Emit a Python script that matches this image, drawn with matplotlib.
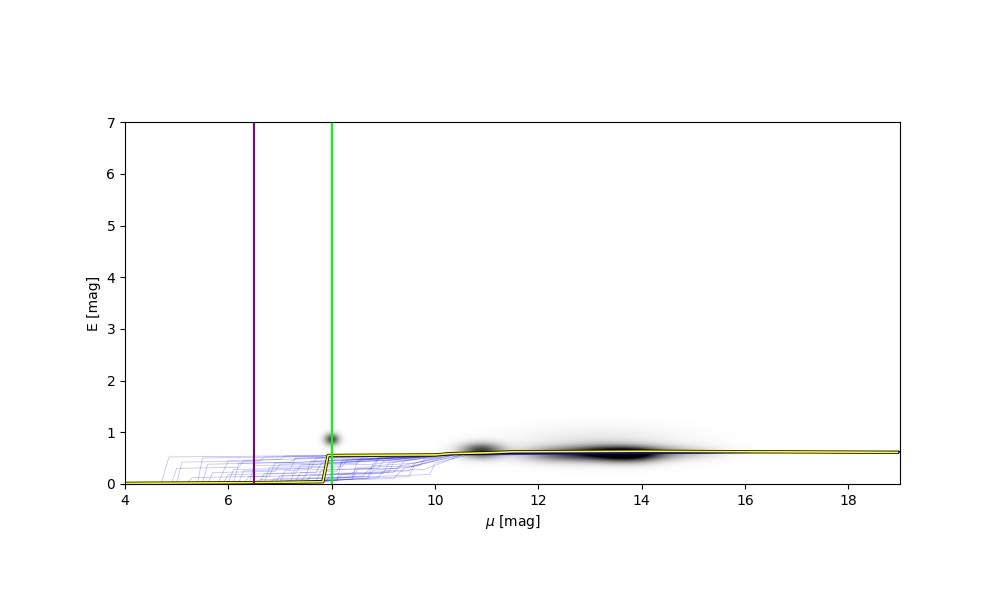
import numpy as np
import matplotlib
matplotlib.use("Agg")
import matplotlib.pyplot as plt

# density blobs (mu, E, width mu, width E, strength)
blob_mu = [8.0, 10.9, 12.4, 13.2, 13.8, 14.5, 13.2]
blob_E = [0.86, 0.64, 0.57, 0.59, 0.57, 0.60, 0.75]
blob_smu = [0.1, 0.28, 0.5, 0.42, 0.4, 0.6, 1.1]
blob_sE = [0.08, 0.1, 0.1, 0.1, 0.1, 0.09, 0.22]
blob_amp = [0.85, 0.9, 0.6, 0.8, 1.1, 0.35, 0.14]

# median extinction profile (yellow)
med_mu = [4.0, 6.0, 7.0, 7.83, 7.93, 9.0, 10.0, 10.3, 11.0, 11.5, 14.0, 18.95]
med_E = [0.01, 0.02, 0.03, 0.04, 0.55, 0.555, 0.56, 0.585, 0.60, 0.62, 0.63, 0.61]

# a selection of sample profiles (blue), nodes in (mu, E)
samples = [
    ([4, 4.7, 4.85, 6.0, 7.9, 10.0, 11.5, 19], [0, 0, 0.52, 0.53, 0.55, 0.56, 0.62, 0.62]),
    ([4, 4.9, 5.0, 6.2, 6.3, 8.0, 10.2, 19], [0, 0, 0.30, 0.32, 0.45, 0.50, 0.57, 0.62]),
    ([4, 5.5, 5.6, 7.5, 9.0, 10.5, 19], [0, 0.02, 0.38, 0.42, 0.50, 0.60, 0.63]),
    ([4, 6.2, 6.3, 7.2, 7.3, 9.5, 11.0, 19], [0, 0.03, 0.25, 0.28, 0.50, 0.55, 0.60, 0.62]),
    ([4, 7.0, 7.6, 8.6, 8.8, 9.6, 10.3, 19], [0, 0.05, 0.10, 0.15, 0.35, 0.40, 0.58, 0.62]),
    ([4, 7.5, 8.3, 9.2, 9.4, 10.6, 19], [0, 0.04, 0.08, 0.10, 0.30, 0.58, 0.62]),
    ([4, 5.8, 6.0, 7.0, 7.1, 8.5, 10.0, 19], [0, 0.01, 0.45, 0.47, 0.54, 0.55, 0.57, 0.63]),
    ([4, 6.6, 6.7, 7.7, 7.8, 9.0, 10.4, 19], [0, 0.02, 0.20, 0.22, 0.40, 0.45, 0.58, 0.62]),
    ([4, 7.2, 7.3, 8.2, 8.3, 9.3, 10.5, 19], [0, 0.04, 0.30, 0.33, 0.46, 0.50, 0.59, 0.61]),
    ([4, 6.9, 7.0, 8.0, 9.1, 9.2, 10.2, 19], [0, 0.03, 0.15, 0.18, 0.22, 0.42, 0.57, 0.62]),
    ([4, 5.2, 5.3, 6.8, 6.9, 8.8, 10.1, 19], [0, 0.0, 0.12, 0.15, 0.40, 0.48, 0.57, 0.63]),
    ([4, 7.6, 8.0, 8.9, 9.0, 9.8, 10.6, 19], [0, 0.05, 0.08, 0.12, 0.25, 0.28, 0.59, 0.62]),
    ([4, 6.4, 6.5, 7.4, 8.5, 8.6, 10.3, 19], [0, 0.02, 0.35, 0.37, 0.40, 0.52, 0.58, 0.62]),
    ([4, 7.8, 8.1, 8.2, 9.4, 10.4, 19], [0, 0.05, 0.06, 0.45, 0.50, 0.58, 0.62]),
    ([4, 7.4, 7.5, 8.4, 8.5, 9.7, 9.8, 10.7, 19], [0, 0.04, 0.18, 0.20, 0.32, 0.35, 0.48, 0.60, 0.62]),
    ([4, 6.0, 6.1, 7.6, 7.7, 9.0, 10.2, 19], [0, 0.02, 0.28, 0.30, 0.50, 0.52, 0.57, 0.62]),
    ([4, 7.1, 7.9, 8.0, 9.5, 9.6, 10.5, 19], [0, 0.04, 0.06, 0.20, 0.25, 0.40, 0.58, 0.62]),
    ([4, 5.0, 5.1, 6.6, 6.7, 8.3, 10.0, 19], [0, 0.0, 0.42, 0.44, 0.52, 0.54, 0.57, 0.63]),
    ([4, 6.8, 6.9, 7.8, 8.7, 8.8, 10.3, 19], [0, 0.03, 0.10, 0.12, 0.14, 0.38, 0.58, 0.62]),
    ([4, 7.3, 7.4, 8.1, 8.2, 9.2, 10.4, 19], [0, 0.04, 0.22, 0.24, 0.42, 0.47, 0.58, 0.62]),
    ([4, 5.9, 6.0, 7.3, 7.4, 9.1, 10.2, 19], [0, 0.01, 0.18, 0.20, 0.36, 0.46, 0.57, 0.62]),
    ([4, 7.7, 8.4, 8.5, 9.3, 9.4, 10.5, 19], [0, 0.05, 0.09, 0.28, 0.30, 0.44, 0.59, 0.62]),
    ([4, 6.3, 6.4, 7.5, 7.6, 8.7, 10.1, 19], [0, 0.02, 0.14, 0.16, 0.44, 0.49, 0.57, 0.62]),
    ([4, 7.0, 7.1, 8.0, 8.9, 9.0, 10.4, 19], [0, 0.04, 0.26, 0.28, 0.30, 0.44, 0.58, 0.62]),
    ([4, 5.4, 5.5, 7.0, 7.8, 7.9, 9.6, 19], [0, 0.01, 0.50, 0.52, 0.53, 0.55, 0.56, 0.62]),
    ([4, 7.9, 8.5, 9.5, 9.6, 10.7, 19], [0, 0.05, 0.10, 0.14, 0.36, 0.60, 0.62]),
    ([4, 6.7, 6.8, 7.9, 8.0, 9.4, 10.3, 19], [0, 0.03, 0.32, 0.34, 0.48, 0.50, 0.58, 0.62]),
    ([4, 7.5, 7.6, 8.6, 9.2, 9.3, 10.5, 19], [0, 0.04, 0.16, 0.20, 0.22, 0.34, 0.59, 0.62]),
    ([4, 6.1, 6.2, 7.2, 7.3, 8.6, 10.0, 19], [0, 0.02, 0.40, 0.42, 0.49, 0.53, 0.57, 0.64]),
    ([4, 7.2, 8.1, 8.2, 9.0, 9.1, 10.4, 19], [0, 0.04, 0.08, 0.18, 0.20, 0.40, 0.58, 0.61]),
    ([4, 6.5, 6.6, 7.7, 8.4, 8.5, 10.2, 19], [0, 0.02, 0.08, 0.10, 0.12, 0.46, 0.57, 0.62]),
    ([4, 7.8, 7.9, 8.8, 8.9, 9.9, 10.6, 19], [0, 0.05, 0.36, 0.38, 0.50, 0.52, 0.59, 0.63]),
    ([4, 6.9, 7.7, 7.8, 8.8, 8.9, 9.9, 19], [0, 0.03, 0.05, 0.26, 0.30, 0.48, 0.55, 0.62]),
    ([4, 7.6, 8.2, 9.3, 9.9, 10.0, 10.8, 19], [0, 0.05, 0.12, 0.16, 0.18, 0.40, 0.60, 0.62]),
    ([4, 5.6, 5.7, 6.9, 7.0, 8.2, 9.8, 19], [0, 0.01, 0.22, 0.24, 0.38, 0.42, 0.55, 0.62]),
    ([4, 7.3, 7.9, 8.7, 8.8, 9.6, 10.4, 19], [0, 0.04, 0.07, 0.10, 0.26, 0.34, 0.58, 0.62]),
]

# grey density background
mu_grid = np.linspace(4, 19, 751)
E_grid = np.linspace(0, 7, 701)
M, EE = np.meshgrid(mu_grid, E_grid)
dens = np.zeros_like(M)
for m0, e0, sm, se, a in zip(blob_mu, blob_E, blob_smu, blob_sE, blob_amp):
    dens += a * np.exp(-0.5 * ((M - m0) / sm) ** 2 - 0.5 * ((EE - e0) / se) ** 2)

fig, ax = plt.subplots(figsize=(10, 6), dpi=100)
ax.imshow(dens, origin="lower", extent=[4, 19, 0, 7], cmap="gray_r",
          vmin=0, vmax=1.2, interpolation="bilinear")

for xs, ys in samples:
    ax.plot(xs, ys, color="blue", lw=0.5, alpha=0.28)

ax.plot(med_mu, med_E, color="black", lw=2.3)
ax.plot(med_mu, med_E, color="yellow", lw=1.2)

ax.axvline(6.5, color="purple", lw=1.5)
ax.axvline(8.0, color="lime", lw=1.5)

ax.set_xlim(4, 19)
ax.set_ylim(0, 7)
ax.set_xlabel(r"$\mu$ [mag]")
ax.set_ylabel("E [mag]")

fig.savefig("out.png")
